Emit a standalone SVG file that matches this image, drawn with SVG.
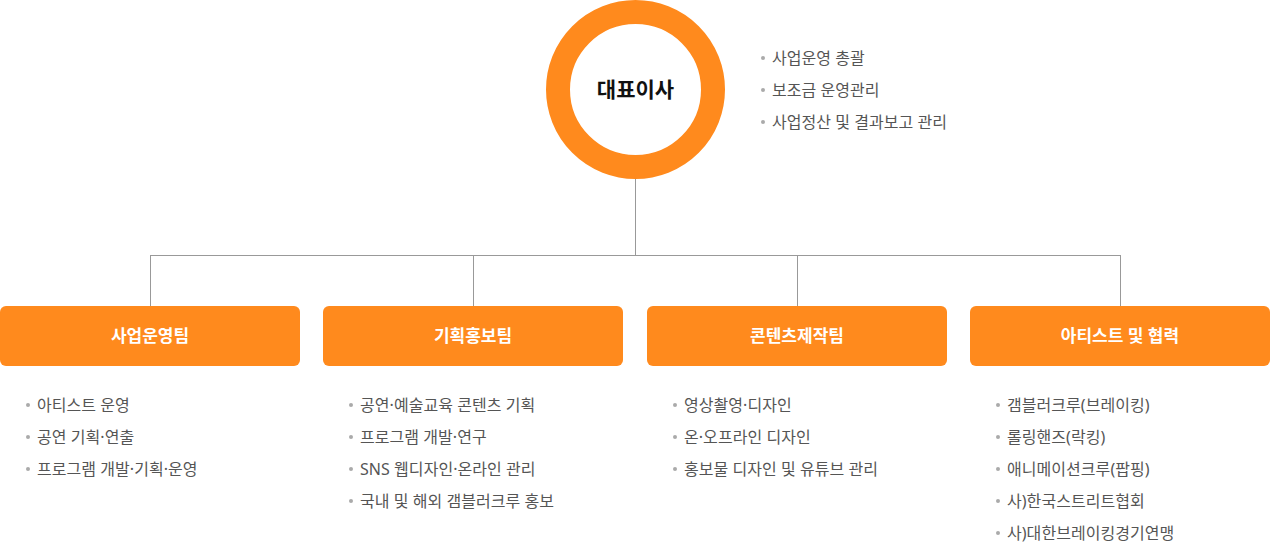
<svg xmlns="http://www.w3.org/2000/svg" width="1270" height="543" viewBox="0 0 1270 543">
<style>
text{font-family:"Noto Sans","Noto Sans CJK KR",sans-serif;}
.box{fill:#FF8A1D;}
.bt{fill:#fff;font-size:17px;font-weight:700;text-anchor:middle;}
.li{fill:#555;font-size:16px;letter-spacing:0.05px;}
.dot{fill:#aaa;}
.ln{stroke:#999;stroke-width:1;fill:none;}
</style>
<rect width="1270" height="543" fill="#fff"/>
<g id="connectors">
<path class="ln" d="M635.5 179V255.5M150.5 255.5H1120.5M150.5 255V306M473.5 255V306M797.5 255V306M1120.5 255V306"/>
</g>
<g id="ceo">
<circle cx="635.5" cy="89.5" r="77.5" fill="#fff" stroke="#FF8A1D" stroke-width="24"/>
<text x="635.5" y="97" font-size="21" font-weight="700" text-anchor="middle" fill="#111">대표이사</text>
<g>
<circle class="dot" cx="763" cy="58" r="2"/><text class="li" x="772" y="63.5">사업운영 총괄</text>
<circle class="dot" cx="763" cy="90" r="2"/><text class="li" x="772" y="95.5">보조금 운영관리</text>
<circle class="dot" cx="763" cy="122" r="2"/><text class="li" x="772" y="127.5">사업정산 및 결과보고 관리</text>
</g>
</g>
<g id="team1">
<rect class="box" x="0" y="306" width="300" height="60" rx="6"/>
<text class="bt" x="150" y="342">사업운영팀</text>
<circle class="dot" cx="28" cy="405" r="2"/><text class="li" x="37" y="410.5">아티스트 운영</text>
<circle class="dot" cx="28" cy="437" r="2"/><text class="li" x="37" y="442.5">공연 기획·연출</text>
<circle class="dot" cx="28" cy="469" r="2"/><text class="li" x="37" y="474.5">프로그램 개발·기획·운영</text>
</g>
<g id="team2">
<rect class="box" x="323" y="306" width="300" height="60" rx="6"/>
<text class="bt" x="473" y="342">기획홍보팀</text>
<circle class="dot" cx="351" cy="405" r="2"/><text class="li" x="360" y="410.5">공연·예술교육 콘텐츠 기획</text>
<circle class="dot" cx="351" cy="437" r="2"/><text class="li" x="360" y="442.5">프로그램 개발·연구</text>
<circle class="dot" cx="351" cy="469" r="2"/><text class="li" x="360" y="474.5">SNS 웹디자인·온라인 관리</text>
<circle class="dot" cx="351" cy="501" r="2"/><text class="li" x="360" y="506.5">국내 및 해외 갬블러크루 홍보</text>
</g>
<g id="team3">
<rect class="box" x="647" y="306" width="300" height="60" rx="6"/>
<text class="bt" x="797" y="342">콘텐츠제작팀</text>
<circle class="dot" cx="675" cy="405" r="2"/><text class="li" x="684" y="410.5">영상촬영·디자인</text>
<circle class="dot" cx="675" cy="437" r="2"/><text class="li" x="684" y="442.5">온·오프라인 디자인</text>
<circle class="dot" cx="675" cy="469" r="2"/><text class="li" x="684" y="474.5">홍보물 디자인 및 유튜브 관리</text>
</g>
<g id="team4">
<rect class="box" x="970" y="306" width="300" height="60" rx="6"/>
<text class="bt" x="1120" y="342">아티스트 및 협력</text>
<circle class="dot" cx="998" cy="405" r="2"/><text class="li" x="1007" y="410.5">갬블러크루(브레이킹)</text>
<circle class="dot" cx="998" cy="437" r="2"/><text class="li" x="1007" y="442.5">롤링핸즈(락킹)</text>
<circle class="dot" cx="998" cy="469" r="2"/><text class="li" x="1007" y="474.5">애니메이션크루(팝핑)</text>
<circle class="dot" cx="998" cy="501" r="2"/><text class="li" x="1007" y="506.5">사)한국스트리트협회</text>
<circle class="dot" cx="998" cy="533" r="2"/><text class="li" x="1007" y="538.5">사)대한브레이킹경기연맹</text>
</g>
</svg>
